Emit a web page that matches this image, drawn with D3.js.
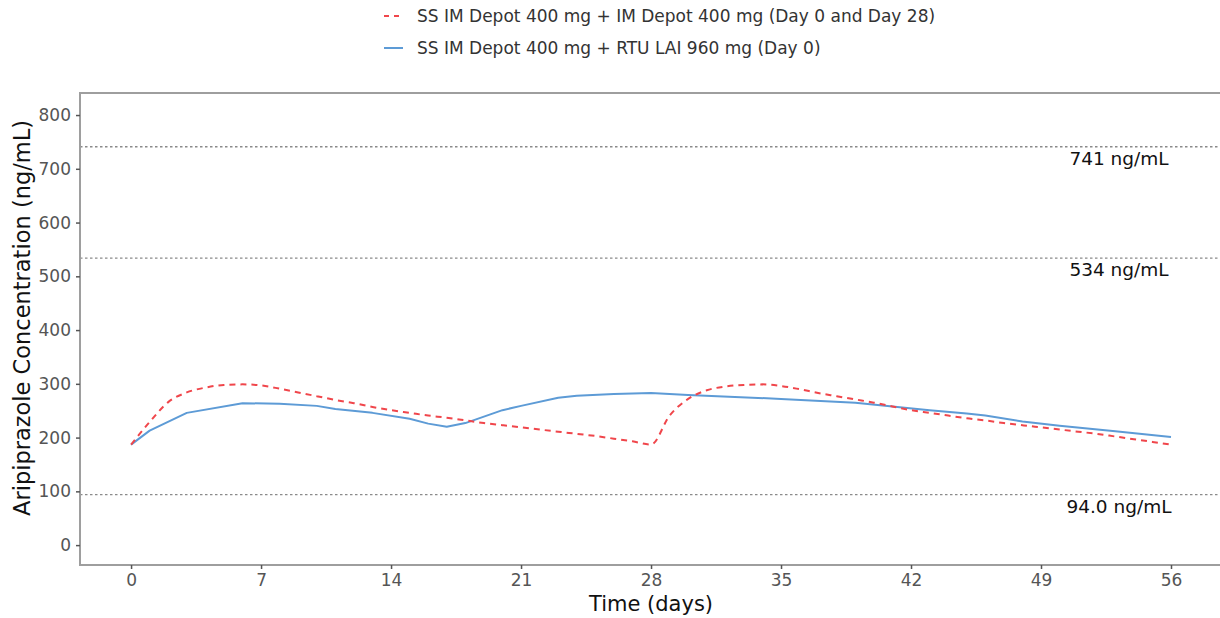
<!DOCTYPE html>
<html>
<head>
<meta charset="utf-8">
<script src="https://cdn.jsdelivr.net/npm/d3@7"></script>
<style>
  html, body { margin: 0; padding: 0; background: #fff; }
  svg { display: block; font-family: "DejaVu Sans", sans-serif; }
</style>
</head>
<body>
<svg id="chart" width="1220" height="618"></svg>
<script>
// Time points (days) and aripiprazole concentrations (ng/mL)
const imDays = d3.range(0, 57);
const imConc = [187, 229, 266, 284, 293, 298, 299, 297, 291, 284,
                277, 270, 264, 257, 251, 246, 241, 237, 232, 227,
                223, 219, 215, 211, 207, 203, 198, 193, 187, 241,
                272, 288, 295, 298, 299, 296, 290, 283, 277, 271,
                265, 258, 251, 246, 241, 236, 232, 227, 223, 219,
                215, 211, 207, 202, 197, 192, 187];

const rtuDays = [0, 1, 3, 6, 8, 10, 11, 13, 15, 16, 17, 18, 20, 21, 23, 24, 26, 28,
                 30, 35, 39, 41, 43, 45, 46, 48, 50, 53, 56];
const rtuConc = [187, 213, 246, 264, 263, 259, 253, 246, 235, 226, 220, 227, 251, 259, 274, 278, 281, 283,
                 279, 272, 265, 258, 251, 245, 241, 230, 222, 212, 201];

const refLevels = [741, 534, 94.0];
const refLabels = ["741 ng/mL", "534 ng/mL", "94.0 ng/mL"];

const xTicks = [0, 7, 14, 21, 28, 35, 42, 49, 56];
const yTicks = [0, 100, 200, 300, 400, 500, 600, 700, 800];

const seriesNames = [
  "SS IM Depot 400 mg + IM Depot 400 mg (Day 0 and Day 28)",
  "SS IM Depot 400 mg + RTU LAI 960 mg (Day 0)"
];

const svg = d3.select("#chart");
const panel = { left: 80, right: 1223, top: 93, bottom: 565 };

const x = d3.scaleLinear().domain([-2.75, 58.8]).range([panel.left, panel.right]);
const y = d3.scaleLinear().domain([-37, 841]).range([panel.bottom, panel.top]);

const red = "#f0464b";
const blue = "#5d9bd6";

// Reference concentration lines
svg.append("g").selectAll("line").data(refLevels).join("line")
  .attr("x1", panel.left).attr("x2", panel.right)
  .attr("y1", d => y(d)).attr("y2", d => y(d))
  .attr("stroke", "#8a8a8a").attr("stroke-width", 1.3)
  .attr("stroke-dasharray", "2.5,2.5");

svg.append("g").selectAll("text").data(refLevels).join("text")
  .attr("x", x(53.2)).attr("y", d => y(d) + 18)
  .attr("text-anchor", "middle")
  .attr("font-size", 18.5).attr("fill", "#111")
  .text((d, i) => refLabels[i]);

// Concentration curves
const line = d3.line().x(d => x(d[0])).y(d => y(d[1]));

svg.append("path")
  .datum(rtuDays.map((d, i) => [d, rtuConc[i]]))
  .attr("d", line)
  .attr("fill", "none").attr("stroke", blue).attr("stroke-width", 2)
  .attr("stroke-linejoin", "round");

svg.append("path")
  .datum(imDays.map((d, i) => [d, imConc[i]]))
  .attr("d", line.curve(d3.curveMonotoneX))
  .attr("fill", "none").attr("stroke", red).attr("stroke-width", 2)
  .attr("stroke-dasharray", "6,5");

// Panel border
svg.append("rect")
  .attr("x", panel.left).attr("y", panel.top)
  .attr("width", panel.right - panel.left).attr("height", panel.bottom - panel.top)
  .attr("fill", "none").attr("stroke", "#9e9e9e").attr("stroke-width", 2);

// Axes
const xAxis = svg.append("g")
  .attr("transform", `translate(0,${panel.bottom})`)
  .call(d3.axisBottom(x).tickValues(xTicks).tickSize(4).tickPadding(5));
const yAxis = svg.append("g")
  .attr("transform", `translate(${panel.left},0)`)
  .call(d3.axisLeft(y).tickValues(yTicks).tickSize(4).tickPadding(5));

[xAxis, yAxis].forEach(g => {
  g.select(".domain").remove();
  g.selectAll(".tick line").attr("stroke", "#555").attr("stroke-width", 1.5);
  g.selectAll(".tick text").attr("fill", "#555").attr("font-size", 17)
    .attr("font-family", "DejaVu Sans, sans-serif");
});

svg.append("text")
  .attr("x", x(28)).attr("y", 611)
  .attr("text-anchor", "middle").attr("font-size", 21).attr("fill", "#111")
  .text("Time (days)");

svg.append("text")
  .attr("transform", `translate(30,${(panel.top + panel.bottom) / 2 - 11}) rotate(-90)`)
  .attr("text-anchor", "middle").attr("font-size", 22.5).attr("fill", "#111")
  .text("Aripiprazole Concentration (ng/mL)");

// Legend
const legend = svg.append("g");
const legendRows = [
  { y: 16, color: red, dash: "5,5" },
  { y: 48, color: blue, dash: null }
];
legendRows.forEach((r, i) => {
  legend.append("line")
    .attr("x1", 384).attr("x2", 403).attr("y1", r.y).attr("y2", r.y)
    .attr("stroke", r.color).attr("stroke-width", 2)
    .attr("stroke-dasharray", r.dash);
  legend.append("text")
    .attr("x", 417).attr("y", r.y + 6)
    .attr("font-size", 17).attr("fill", "#333")
    .text(seriesNames[i]);
});
</script>
</body>
</html>
